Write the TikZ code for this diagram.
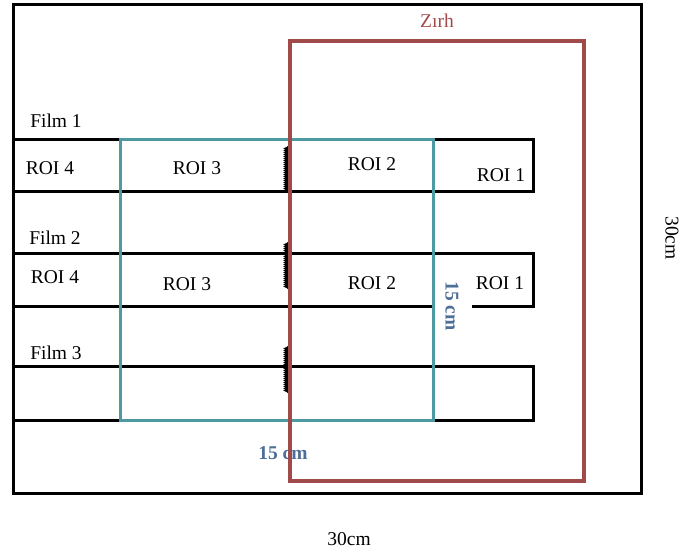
\documentclass[tikz,border=0pt]{standalone}
\usepackage{fontspec}
\setmainfont{Liberation Serif}
\usetikzlibrary{decorations.pathmorphing}
\definecolor{ink}{HTML}{000000}
\definecolor{armour}{HTML}{A04A4A}
\definecolor{roiteal}{HTML}{4E9AA2}
\definecolor{dimblue}{HTML}{4D6E98}
\tikzset{
  frameline/.style={draw=ink,line width=3pt},
  filmline/.style={draw=ink,line width=3pt},
  roibox/.style={draw=roiteal,line width=3pt},
  armourbox/.style={draw=armour,line width=4pt},
  tear/.style={draw=ink,line width=2.2pt,decorate,decoration={zigzag,segment length=2pt,amplitude=1.1pt}},
  lbl/.style={font=\fontsize{19.5}{22}\selectfont,text=ink,inner sep=0pt},
  dimlbl/.style={font=\fontsize{19.5}{22}\selectfont\bfseries,text=dimblue,inner sep=0pt},
}

\begin{document}
\begin{tikzpicture}[x=1pt,y=-1pt]
\useasboundingbox (0,0) rectangle (683,553);

% outer plate -----------------------------------------------------------------
\draw[frameline] (13,5) rectangle (641,493);

% film strips -------------------------------------------------------------------
\draw[filmline] (13,140) -- (533,140) -- (533,192) -- (13,192);
\draw[filmline] (13,254) -- (533,254) -- (533,307) -- (472,307);
\draw[filmline] (433,307) -- (13,307);
\draw[filmline] (13,367) -- (533,367) -- (533,420) -- (13,420);

% torn edges
\draw[tear] (287,147) -- (287,192);
\draw[tear] (287,243) -- (287,288);
\draw[tear] (287,347) -- (287,392);

% 15 x 15 field ------------------------------------------------------------------
\draw[roibox] (120,140) rectangle (433,420);

\node[lbl] (film1) at (56,121) {Film 1};
\node[lbl] (film2) at (55,238) {Film 2};
\node[lbl] (film3) at (56,353) {Film 3};

\node[lbl] (f1roi4) at (50,168) {ROI 4};
\node[lbl] (f1roi3) at (197,168) {ROI 3};
\node[lbl] (f1roi2) at (372,164) {ROI 2};
\node[lbl] (f1roi1) at (501,175) {ROI 1};

\node[lbl] (f2roi4) at (55,277) {ROI 4};
\node[lbl] (f2roi3) at (187,284) {ROI 3};
\node[lbl] (f2roi2) at (372,283) {ROI 2};
\node[lbl] (f2roi1) at (500,283) {ROI 1};

\node[dimlbl] (fieldw) at (283,453) {15 cm};
\node[dimlbl,rotate=-90] (fieldh) at (452,306) {15 cm};

% armour -------------------------------------------------------------------------
\draw[armourbox] (290,41) rectangle (584,481);
\node[lbl,text=armour] (zirh) at (437,21) {Zırh};

% plate size
\node[lbl] (platew) at (349,539) {30cm};
\node[lbl,rotate=-90] (plateh) at (672,238) {30cm};

\end{tikzpicture}
\end{document}
